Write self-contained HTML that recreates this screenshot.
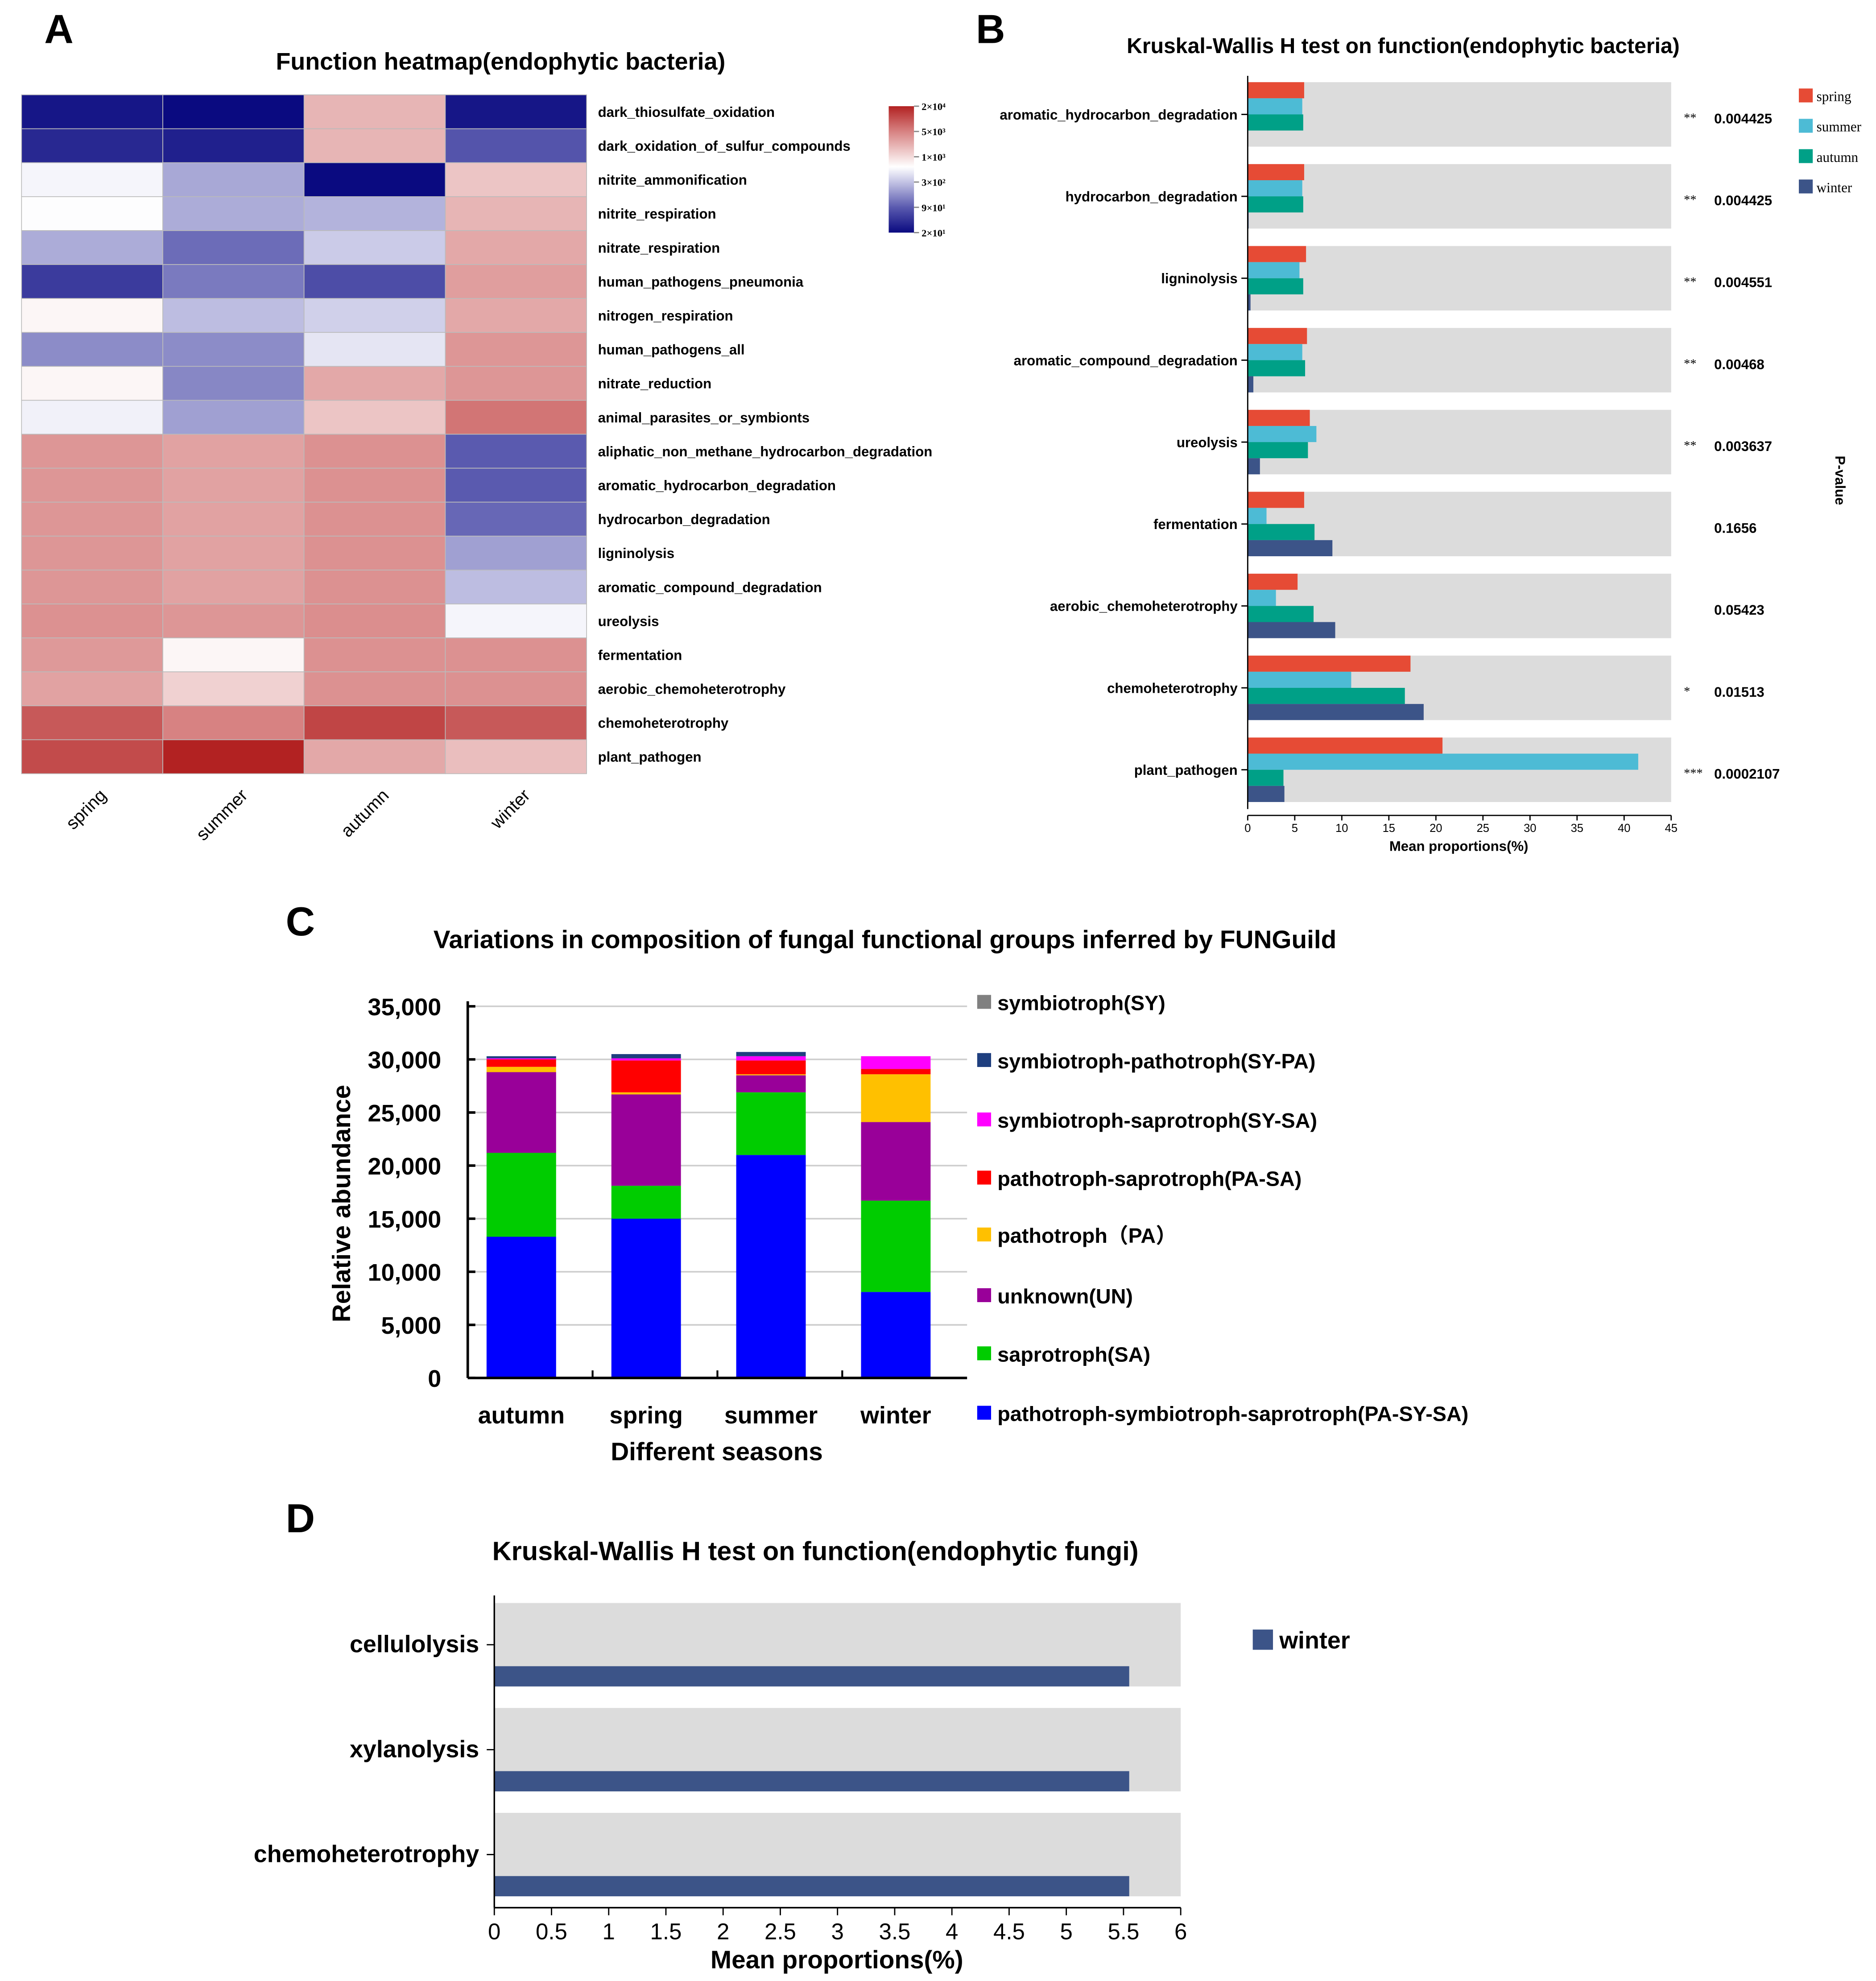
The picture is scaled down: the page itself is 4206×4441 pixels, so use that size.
<!DOCTYPE html>
<html><head><meta charset="utf-8"><style>
html,body{margin:0;padding:0;background:#fff;}
svg{display:block;font-family:"Liberation Sans",Arial,sans-serif;}
</style></head><body>
<svg id="root" width="4206" height="4441" viewBox="0 0 1484 1567" xmlns="http://www.w3.org/2000/svg">
<g id="A"></g>
<g id="B"></g>
<g id="C"></g>
<g id="D"></g>
</svg>
<script>
// ---------- Panel A data ----------
const hmSeasons = ["spring","summer","autumn","winter"];
const hmFunctions = ["dark_thiosulfate_oxidation","dark_oxidation_of_sulfur_compounds","nitrite_ammonification","nitrite_respiration","nitrate_respiration","human_pathogens_pneumonia","nitrogen_respiration","human_pathogens_all","nitrate_reduction","animal_parasites_or_symbionts","aliphatic_non_methane_hydrocarbon_degradation","aromatic_hydrocarbon_degradation","hydrocarbon_degradation","ligninolysis","aromatic_compound_degradation","ureolysis","fermentation","aerobic_chemoheterotrophy","chemoheterotrophy","plant_pathogen"];
const hmSpring = [25,35,550,600,230,50,700,160,700,520,3500,3500,3500,3500,3500,3800,3300,2800,9000,11000];
const hmSummer = [20,30,220,230,110,130,280,160,150,200,2800,2800,2800,2800,2800,3500,700,1200,5000,20000];
const hmAutumn = [2000,2000,20,250,330,70,350,450,2500,1500,3800,3800,3800,3800,3800,4000,3800,3800,12000,2500];
const hmWinter = [25,80,1500,2000,2500,3000,2500,3500,3500,6000,90,90,105,200,280,550,3800,3800,9000,1700];
const legendTicks = ["2×10⁴","5×10³","1×10³","3×10²","9×10¹","2×10¹"];

// ---------- Panel B data ----------
const kwCats = ["aromatic_hydrocarbon_degradation","hydrocarbon_degradation","ligninolysis","aromatic_compound_degradation","ureolysis","fermentation","aerobic_chemoheterotrophy","chemoheterotrophy","plant_pathogen"];
const kwSpring = [6.0,6.0,6.2,6.3,6.6,6.0,5.3,17.3,20.7];
const kwSummer = [5.8,5.8,5.5,5.8,7.3,2.0,3.0,11.0,41.5];
const kwAutumn = [5.9,5.9,5.9,6.1,6.4,7.1,7.0,16.7,3.8];
const kwWinter = [0.0,0.1,0.3,0.6,1.3,9.0,9.3,18.7,3.9];
const kwStars = ["**","**","**","**","**","","","*","***"];
const kwP = ["0.004425","0.004425","0.004551","0.00468","0.003637","0.1656","0.05423","0.01513","0.0002107"];
const kwTicks = [0,5,10,15,20,25,30,35,40,45];

// ---------- Panel C data ----------
const cSeasons = ["autumn","spring","summer","winter"];
const cGroups = ["pathotroph-symbiotroph-saprotroph(PA-SY-SA)","saprotroph(SA)","unknown(UN)","pathotroph（PA）","pathotroph-saprotroph(PA-SA)","symbiotroph-saprotroph(SY-SA)","symbiotroph-pathotroph(SY-PA)","symbiotroph(SY)"];
const cPASYSA = [13300,15000,21000,8100];
const cSA = [7900,3100,5900,8600];
const cUN = [7600,8600,1600,7400];
const cPA = [500,200,100,4500];
const cPASA = [700,3000,1300,500];
const cSYSA = [100,200,400,1200];
const cSYPA = [200,400,400,0];
const cSY = [0,0,0,0];
const cTicks = [0,5000,10000,15000,20000,25000,30000,35000];

// ---------- Panel D data ----------
const dCats = ["cellulolysis","xylanolysis","chemoheterotrophy"];
const dWinter = [5.55,5.55,5.55];
const dTicks = [0,0.5,1,1.5,2,2.5,3,3.5,4,4.5,5,5.5,6];

const NS="http://www.w3.org/2000/svg";
function mk(parent,tag,attrs,text){const e=document.createElementNS(NS,tag);for(const k in attrs)e.setAttribute(k,attrs[k]);if(text!==undefined)e.textContent=text;parent.appendChild(e);return e;}

// ===== Panel A =====
(function(){
const g=document.getElementById('A');
let t;
t=mk(g,'text',{x:35,y:34,'font-size':32,'font-weight':'bold'},'A');


t=mk(g,'text',{x:396,y:55,'font-size':19,'font-weight':'bold','text-anchor':'middle'},'Function heatmap(endophytic bacteria)');


const x0=17,x1=464,y0=75,y1=612;
const cw=(x1-x0)/hmSeasons.length, rh=(y1-y0)/hmFunctions.length;
const stops=[20,90,300,1000,5000,20000];
const stopT=[0,0.2,0.4,0.6,0.8,1];
const cols=[[10,10,128],[90,90,175],[195,195,228],[255,255,255],[215,130,130],[178,34,34]];
const colT=[0,0.2,0.4,0.52,0.8,1];
function tOf(v){const lv=Math.log10(Math.max(v,20));for(let i=0;i<stops.length-1;i++){const a=Math.log10(stops[i]),b=Math.log10(stops[i+1]);if(lv<=b){return stopT[i]+(lv-a)/(b-a)*(stopT[i+1]-stopT[i]);}}return 1;}
function colOf(v){const tt=tOf(v);for(let i=0;i<colT.length-1;i++){if(tt<=colT[i+1]){const f=(tt-colT[i])/(colT[i+1]-colT[i]);const c=cols[i].map((q,j)=>Math.round(q+(cols[i+1][j]-q)*f));return `rgb(${c})`;}}return 'rgb(178,34,34)';}
const series=[hmSpring,hmSummer,hmAutumn,hmWinter];
series.forEach((s,ci)=>{s.forEach((v,ri)=>{
 const r=mk(g,'rect',{x:x0+ci*cw,y:y0+ri*rh,width:cw,height:rh,fill:colOf(v),stroke:'#bbb','stroke-width':0.6});
 
 
});});
hmFunctions.forEach((f,ri)=>{
 const l=mk(g,'text',{x:473,y:y0+ri*rh+rh/2+4,'font-size':11,'font-weight':'bold'},f);
 
 
});
hmSeasons.forEach((s,ci)=>{
 const cx=x0+ci*cw+cw/2;
 const l=mk(g,'text',{x:cx+12,y:630,'font-size':14,'text-anchor':'end',transform:`rotate(-45 ${cx+12} 630)`},s);
 
 
});
const defs=mk(g,'defs',{});
const lg=mk(defs,'linearGradient',{id:'hmgrad',x1:0,y1:1,x2:0,y2:0});
colT.forEach((o,i)=>mk(lg,'stop',{offset:o,'stop-color':`rgb(${cols[i]})`}));
const lb=mk(g,'rect',{x:703,y:84,width:20,height:100,fill:'url(#hmgrad)'});


legendTicks.forEach((tk,i)=>{
 const yy=84+i*20;
 mk(g,'line',{x1:723,x2:727,y1:yy,y2:yy,stroke:'#888','stroke-width':1});
 const l=mk(g,'text',{x:729,y:yy+3,'font-size':8,'font-weight':'bold','font-family':'Liberation Serif,serif'},tk);
 
 
});
})();

// ===== Panel B =====
(function(){
const g=document.getElementById('B');
let t=mk(g,'text',{x:772,y:34,'font-size':32,'font-weight':'bold'},'B');


t=mk(g,'text',{x:1110,y:42,'font-size':17,'font-weight':'bold','text-anchor':'middle'},'Kruskal-Wallis H test on function(endophytic bacteria)');


const X0=987,X1=1322,xs=v=>X0+v*(X1-X0)/45;
const top=65,step=64.8,bandH=51,barH=bandH/4;
const colors=['#e64b35','#4dbbd5','#00a087','#3c5488'];
const series=[kwSpring,kwSummer,kwAutumn,kwWinter];
kwCats.forEach((c,i)=>{
 const by=top+i*step;
 const band=mk(g,'rect',{x:X0,y:by,width:X1-X0,height:bandH,fill:'#dcdcdc'});
 
 
 series.forEach((s,si)=>{
  const r=mk(g,'rect',{x:X0,y:by+si*barH,width:xs(s[i])-X0,height:barH,fill:colors[si]});
  
  
 });
 const cy=by+bandH/2;
 mk(g,'line',{x1:X0-5,x2:X0,y1:cy,y2:cy,stroke:'#000','stroke-width':1});
 const l=mk(g,'text',{x:X0-8,y:cy+4,'font-size':11,'font-weight':'bold','text-anchor':'end'},c);
 
 
 const st=mk(g,'text',{x:1332,y:cy+6,'font-size':10,'font-family':'Liberation Serif,serif'},kwStars[i]);
 
 
 const p=mk(g,'text',{x:1356,y:cy+7,'font-size':11,'font-weight':'bold'},kwP[i]);
 
 
});
mk(g,'line',{x1:X0,x2:X0,y1:60,y2:640,stroke:'#000','stroke-width':1});
mk(g,'line',{x1:X0,x2:X1,y1:645,y2:645,stroke:'#000','stroke-width':1});
kwTicks.forEach(v=>{
 mk(g,'line',{x1:xs(v),x2:xs(v),y1:645,y2:649,stroke:'#000','stroke-width':1});
 const l=mk(g,'text',{x:xs(v),y:658,'font-size':9,'text-anchor':'middle'},v);
 
 
});
t=mk(g,'text',{x:1154,y:673,'font-size':11,'font-weight':'bold','text-anchor':'middle'},'Mean proportions(%)');


t=mk(g,'text',{x:1452,y:380,'font-size':11,'font-weight':'bold','text-anchor':'middle',transform:'rotate(90 1452 380)'},'P-value');


['spring','summer','autumn','winter'].forEach((s,i)=>{
 const r=mk(g,'rect',{x:1423,y:70+i*24,width:11,height:11,fill:colors[i]});
 
 
 const l=mk(g,'text',{x:1437,y:80+i*24,'font-size':11,'font-family':'Liberation Serif,serif'},s);
 
 
});
})();

// ===== Panel C =====
(function(){
const g=document.getElementById('C');
let t=mk(g,'text',{x:226,y:740,'font-size':32,'font-weight':'bold'},'C');


t=mk(g,'text',{x:700,y:750,'font-size':20,'font-weight':'bold','text-anchor':'middle'},'Variations in composition of fungal functional groups  inferred by FUNGuild');


const X0=370,X1=765,Y0=1090,Y1=796;
const ys=v=>Y0-v*(Y0-Y1)/35000;
cTicks.forEach(v=>{
 if(v>0){const gl=mk(g,'line',{x1:X0,x2:X1,y1:ys(v),y2:ys(v),stroke:'#ccc','stroke-width':1.2});
 
 }
 mk(g,'line',{x1:X0,x2:X0+6,y1:ys(v),y2:ys(v),stroke:'#000','stroke-width':2});
 const l=mk(g,'text',{x:349,y:ys(v)+7,'font-size':19,'font-weight':'bold','text-anchor':'end'},v.toLocaleString('en-US'));
 
 
});
const series=[cPASYSA,cSA,cUN,cPA,cPASA,cSYSA,cSYPA,cSY];
const colors=['#0000ff','#00cc00','#990099','#ffc000','#ff0000','#ff00ff','#1f3f7f','#808080'];
const slot=(X1-X0)/4,bw=55;
cSeasons.forEach((s,i)=>{
 const cx=X0+slot*i+slot/2-7;
 let acc=0;
 series.forEach((ser,si)=>{
  const v=ser[i];
  if(v>0){const r=mk(g,'rect',{x:cx-bw/2,y:ys(acc+v),width:bw,height:ys(acc)-ys(acc+v),fill:colors[si]});
  
  }
  acc+=v;
 });
 const l=mk(g,'text',{x:cx,y:1126,'font-size':19,'font-weight':'bold','text-anchor':'middle'},s);
 
 
 if(i>0) mk(g,'line',{x1:X0+slot*i,x2:X0+slot*i,y1:Y0,y2:Y0-6,stroke:'#000','stroke-width':1.5});
});
mk(g,'line',{x1:X0,x2:X0,y1:Y1-4,y2:Y0,stroke:'#000','stroke-width':2});
mk(g,'line',{x1:X0,x2:X1,y1:Y0,y2:Y0,stroke:'#000','stroke-width':2});
t=mk(g,'text',{x:567,y:1155,'font-size':20,'font-weight':'bold','text-anchor':'middle'},'Different seasons');


t=mk(g,'text',{x:277,y:952,'font-size':20,'font-weight':'bold','text-anchor':'middle',transform:'rotate(-90 277 952)'},'Relative abundance');


const legY=[1122,1075,1029,981,936,890,843,797];
cGroups.forEach((n,i)=>{
 const r=mk(g,'rect',{x:773,y:legY[i]-10,width:11,height:11,fill:colors[i]});
 
 
 const l=mk(g,'text',{x:789,y:legY[i]+2,'font-size':16.5,'font-weight':'bold','font-family':'"Liberation Sans","Noto Sans CJK SC",sans-serif'},n);
 
 
});
})();

// ===== Panel D =====
(function(){
const g=document.getElementById('D');
let t=mk(g,'text',{x:226,y:1212,'font-size':32,'font-weight':'bold'},'D');


t=mk(g,'text',{x:645,y:1234,'font-size':21,'font-weight':'bold','text-anchor':'middle'},'Kruskal-Wallis H test on function(endophytic fungi)');


const X0=391,X1=934,xs=v=>X0+v*(X1-X0)/6;
const top=1268,step=83,bandH=66,barH=16;
dCats.forEach((c,i)=>{
 const by=top+i*step;
 const band=mk(g,'rect',{x:X0,y:by,width:X1-X0,height:bandH,fill:'#dcdcdc'});
 
 
 const r=mk(g,'rect',{x:X0,y:by+bandH-barH,width:xs(dWinter[i])-X0,height:barH,fill:'#3c5488'});
 
 
 const cy=by+33;
 mk(g,'line',{x1:X0-6,x2:X0,y1:cy,y2:cy,stroke:'#000','stroke-width':1});
 const l=mk(g,'text',{x:X0-12,y:cy+6,'font-size':19,'font-weight':'bold','text-anchor':'end'},c);
 
 
});
mk(g,'line',{x1:X0,x2:X0,y1:1262,y2:1509,stroke:'#000','stroke-width':1.2});
mk(g,'line',{x1:X0,x2:X1,y1:1509,y2:1509,stroke:'#000','stroke-width':1.2});
dTicks.forEach(v=>{
 mk(g,'line',{x1:xs(v),x2:xs(v),y1:1509,y2:1515,stroke:'#000','stroke-width':1});
 const l=mk(g,'text',{x:xs(v),y:1534,'font-size':18,'text-anchor':'middle'},v);
 
 
});
t=mk(g,'text',{x:662,y:1557,'font-size':20,'font-weight':'bold','text-anchor':'middle'},'Mean proportions(%)');


const sw=mk(g,'rect',{x:991,y:1289,width:16,height:16,fill:'#3c5488'});


t=mk(g,'text',{x:1012,y:1304,'font-size':19,'font-weight':'bold'},'winter');


})();
</script>
</body></html>
